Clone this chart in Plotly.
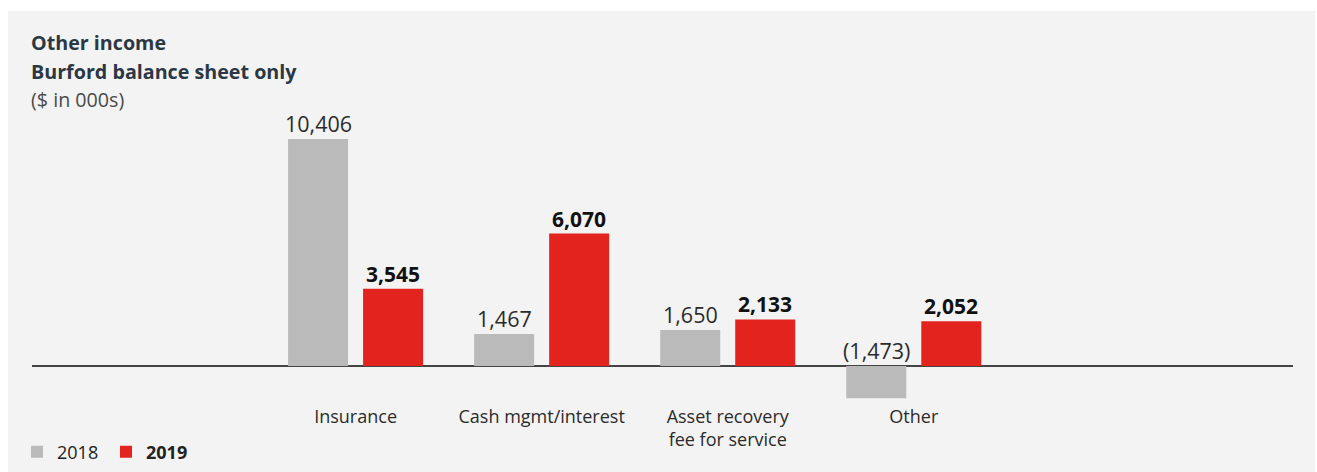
import plotly.graph_objects as go

# Other income, Burford balance sheet only ($ in 000s)
categories = ["Insurance", "Cash mgmt/interest", "Asset recovery<br>fee for service", "Other"]
values_2018 = [10406, 1467, 1650, -1473]
values_2019 = [3545, 6070, 2133, 2052]

GREY = "#bababa"
RED = "#e2231e"
FONT = "Open Sans"

W, H = 1317, 472
L, R, T, B = 32, 24, 110, 0
plot_w = W - L - R
plot_h = H - T - B
AXIS_BOTTOM = 402  # pixel row where the value axis ends

BAR_W = 0.3226
GAP = 0.0806


def fmt(v):
    s = f"{abs(v):,}"
    return f"({s})" if v < 0 else s


def py(pixel_y):
    return (H - B - pixel_y) / plot_h


def px(pixel_x):
    return (pixel_x - L) / plot_w


x_idx = list(range(len(categories)))

fig = go.Figure()
fig.add_trace(go.Bar(
    x=x_idx, y=values_2018, name="2018",
    marker=dict(color=GREY, line=dict(width=0)),
    width=BAR_W, offset=-BAR_W - GAP / 2,
))
fig.add_trace(go.Bar(
    x=x_idx, y=values_2019, name="<b>2019</b>",
    marker=dict(color=RED, line=dict(width=0)),
    width=BAR_W, offset=GAP / 2,
))

annotations = []
# value labels above each bar (negative values sit above the zero line)
for i, v in enumerate(values_2018):
    annotations.append(dict(
        x=i - (BAR_W + GAP) / 2, y=max(v, 0), xref="x", yref="y",
        text=fmt(v), showarrow=False, yanchor="bottom", yshift=-1,
        font=dict(family=FONT, size=21.5, color="#2b2b2b"),
    ))
for i, v in enumerate(values_2019):
    annotations.append(dict(
        x=i + (BAR_W + GAP) / 2, y=max(v, 0), xref="x", yref="y",
        text=f"<b>{fmt(v)}</b>", showarrow=False, yanchor="bottom", yshift=-1,
        font=dict(family=FONT, size=21, color="#111111"),
    ))

title_lines = [
    ("<b>Other income</b>", 43, "#2b3844"),
    ("<b>Burford balance sheet only</b>", 71, "#2b3844"),
    ("($ in 000s)", 99, "#4a4a4a"),
]
for txt, yc, col in title_lines:
    annotations.append(dict(
        x=px(29), y=py(yc), xref="paper", yref="paper",
        text=txt, showarrow=False, xanchor="left", yanchor="middle",
        font=dict(family=FONT, size=19.7, color=col),
    ))

px_per_unit = 227 / 10406
y_top = (366 - T) / px_per_unit
y_bot = -(AXIS_BOTTOM - 366) / px_per_unit

fig.update_layout(
    width=W, height=H,
    margin=dict(l=L, r=R, t=T, b=B),
    paper_bgcolor="white",
    plot_bgcolor="rgba(0,0,0,0)",
    barmode="overlay",
    showlegend=True,
    legend=dict(
        orientation="h", x=px(17), y=py(452), xanchor="left", yanchor="middle",
        font=dict(family=FONT, size=18, color="#222222"),
        bgcolor="rgba(0,0,0,0)", itemclick=False,
        entrywidth=44,
    ),
    font=dict(family=FONT),
    xaxis=dict(
        range=[-1.739, 5.038], tickvals=x_idx, ticktext=categories,
        showgrid=False, zeroline=False, showline=False, ticks="",
        tickfont=dict(family=FONT, size=18, color="#2b2b2b"),
        ticklabelstandoff=2,
    ),
    yaxis=dict(
        domain=[py(AXIS_BOTTOM), 1],
        range=[y_bot, y_top], showgrid=False, showticklabels=False,
        zeroline=True, zerolinecolor="#444444", zerolinewidth=1.5,
        showline=False, ticks="",
    ),
    shapes=[dict(
        type="rect", xref="paper", yref="paper", layer="below",
        x0=px(8), x1=px(1315), y0=py(H + 20), y1=py(11),
        fillcolor="#f3f3f3", line=dict(width=0),
    )],
    annotations=annotations,
)

fig.write_html("out.html")
